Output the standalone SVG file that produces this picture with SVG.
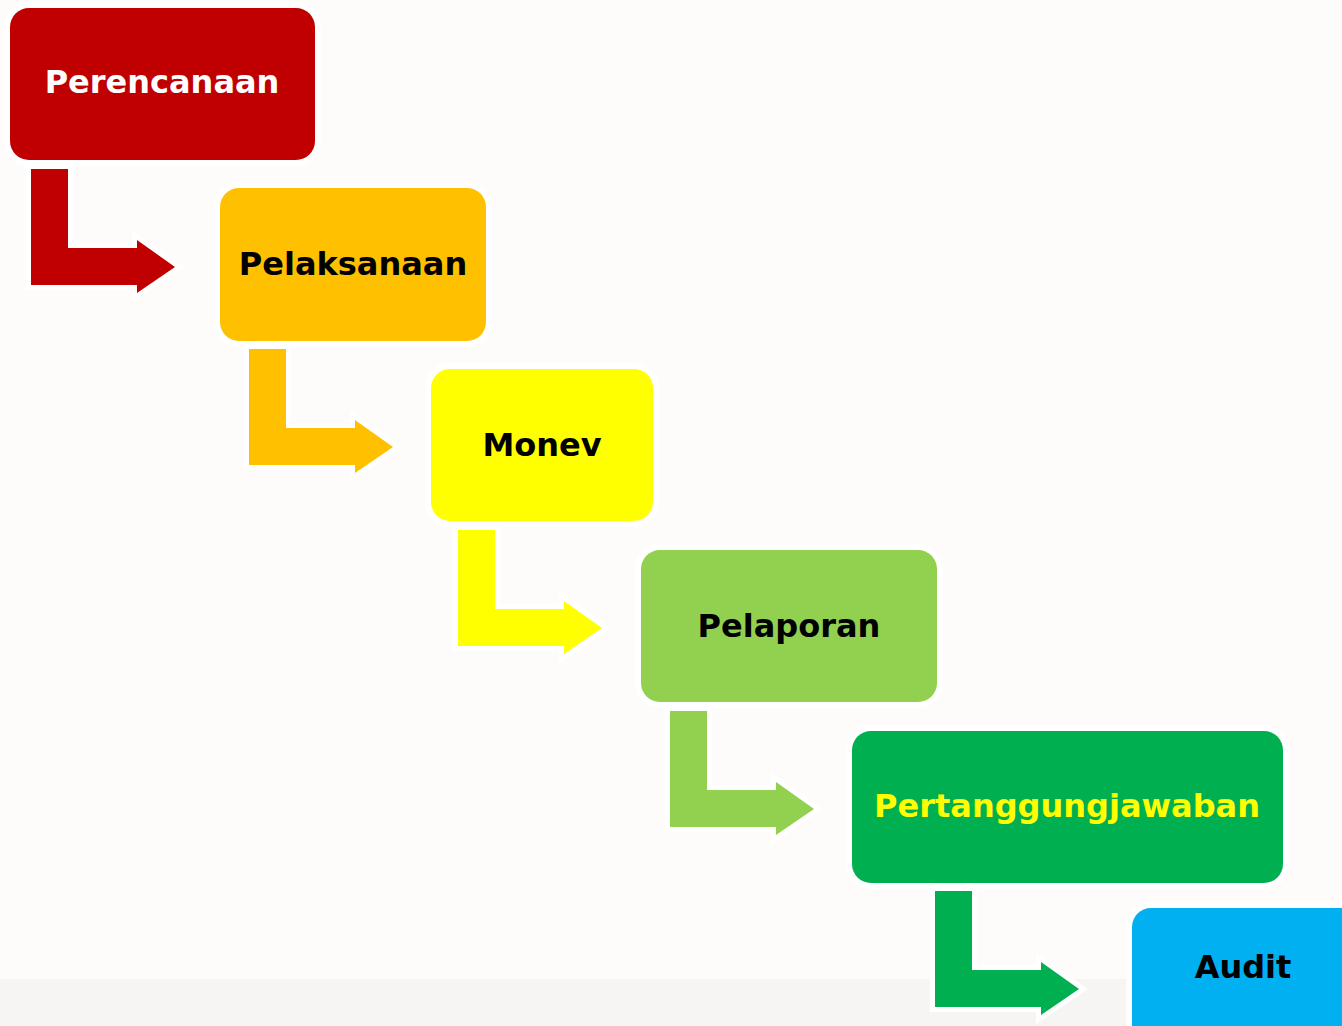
<svg xmlns="http://www.w3.org/2000/svg" width="1342" height="1026" viewBox="0 0 1342 1026">
<style>
.box{stroke:#ffffff;stroke-width:12;paint-order:stroke}
.arr{stroke:#ffffff;stroke-width:10;stroke-linejoin:miter;paint-order:stroke}
.lbl{font-family:"DejaVu Sans",Verdana,sans-serif;font-weight:bold;font-size:32px;text-anchor:middle}
</style>
<defs>
<path id="bend" d="M0,0 H37 V79 H106 V71 L144,98 L106,124 V116 H0 Z"/>
</defs>
<rect x="0" y="0" width="1342" height="1026" fill="#fdfcfa"/>
<rect x="0" y="979" width="1342" height="47" fill="#f6f5f3"/>
<g id="connectors">
<use href="#bend" x="31" y="169" class="arr" fill="#c00000"/>
<use href="#bend" x="249" y="349" class="arr" fill="#ffc000"/>
<use href="#bend" x="458" y="530" class="arr" fill="#ffff00"/>
<use href="#bend" x="670" y="711" class="arr" fill="#92d050"/>
<use href="#bend" x="935" y="891" class="arr" fill="#00b050"/>
</g>
<g id="perencanaan">
<rect class="box" x="10" y="8" width="305" height="152" rx="19" fill="#c00000"/>
<text class="lbl" x="162" y="93" fill="#ffffff">Perencanaan</text>
</g>
<g id="pelaksanaan">
<rect class="box" x="220" y="188" width="266" height="153" rx="19" fill="#ffc000"/>
<text class="lbl" x="353" y="275" fill="#000000">Pelaksanaan</text>
</g>
<g id="monev">
<rect class="box" x="431" y="369" width="222" height="152" rx="19" fill="#ffff00"/>
<text class="lbl" x="542" y="456" fill="#000000">Monev</text>
</g>
<g id="pelaporan">
<rect class="box" x="641" y="550" width="296" height="152" rx="19" fill="#92d050"/>
<text class="lbl" x="789" y="637" fill="#000000">Pelaporan</text>
</g>
<g id="pertanggungjawaban">
<rect class="box" x="852" y="731" width="431" height="152" rx="19" fill="#00b050"/>
<text class="lbl" x="1067" y="817" fill="#ffff00">Pertanggungjawaban</text>
</g>
<g id="audit">
<rect class="box" x="1132" y="908" width="240" height="152" rx="19" fill="#00b0f0"/>
<text class="lbl" x="1243" y="978" fill="#000000">Audit</text>
</g>
</svg>
